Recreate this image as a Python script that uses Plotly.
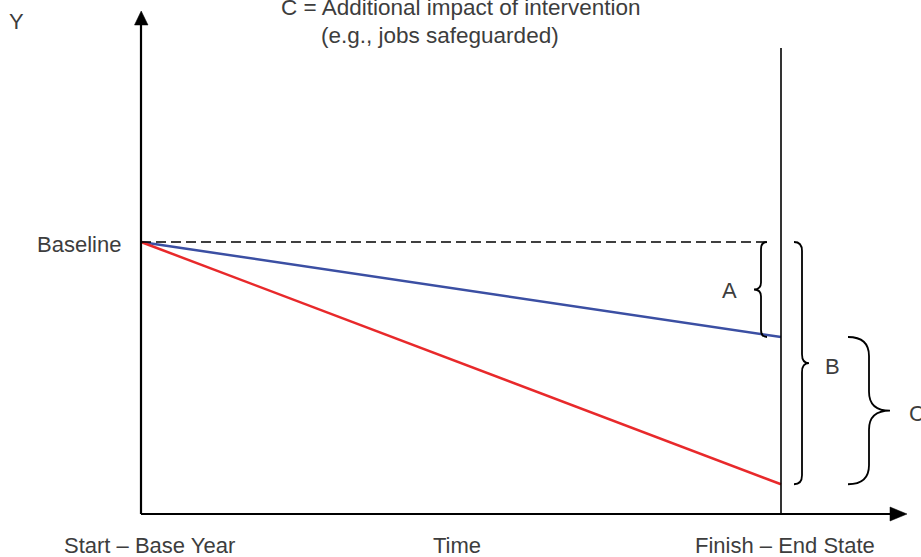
import plotly.graph_objects as go

# ---- data ----
time_points = [0, 1]                      # start, finish
time_labels = ["Start – Base Year", "Finish – End State"]
axis_title_x = "Time"
axis_title_y = "Y"
baseline_value = 100
with_intervention = [100, 80]             # blue
without_intervention = [100, 49]          # red
brace_labels = ["A", "B", "C"]
note_lines = ["C = Additional impact of intervention", "(e.g., jobs safeguarded)"]

# ---- layout scale helpers (pixel <-> data) ----
W, H = 921, 557
X0_PX, X1_PX = 141, 781          # pixel of time 0 and time 1
Y_BASE_PX, PX_PER_UNIT = 242, 4.75
SX = (X1_PX - X0_PX) / (time_points[1] - time_points[0])

def X(px):
    return time_points[0] + (px - X0_PX) / SX

def Y(py):
    return baseline_value - (py - Y_BASE_PX) / PX_PER_UNIT

def PY(v):
    return Y_BASE_PX + (baseline_value - v) * PX_PER_UNIT

FONT = "Liberation Sans, Arial, sans-serif"
TXT = "#3d3d3d"

fig = go.Figure()

# lines
fig.add_trace(go.Scatter(x=time_points, y=with_intervention, mode="lines",
                         line=dict(color="#3b4fa3", width=2.5), hoverinfo="skip"))
fig.add_trace(go.Scatter(x=time_points, y=without_intervention, mode="lines",
                         line=dict(color="#e8292b", width=2.5), hoverinfo="skip"))

shapes = []
# dashed baseline
shapes.append(dict(type="line", xref="x", yref="y", x0=time_points[0], x1=X(768),
                   y0=baseline_value, y1=baseline_value,
                   line=dict(color="black", width=1.6, dash="10px,5px")))
# axes
axis_bottom_px = 514
shapes.append(dict(type="line", xref="x", yref="y", x0=X(X0_PX), x1=X(X0_PX),
                   y0=Y(axis_bottom_px), y1=Y(24), line=dict(color="black", width=2.2)))
shapes.append(dict(type="line", xref="x", yref="y", x0=X(X0_PX), x1=X(891),
                   y0=Y(axis_bottom_px), y1=Y(axis_bottom_px), line=dict(color="black", width=2.2)))
# arrow heads
shapes.append(dict(type="path", xref="x", yref="y",
                   path=f"M {X(134.5)},{Y(25)} L {X(148)},{Y(25)} L {X(141.2)},{Y(11)} Z",
                   fillcolor="black", line=dict(color="black", width=0.5)))
shapes.append(dict(type="path", xref="x", yref="y",
                   path=f"M {X(890)},{Y(507)} L {X(890)},{Y(521)} L {X(907)},{Y(514)} Z",
                   fillcolor="black", line=dict(color="black", width=0.5)))
# finish vertical line
shapes.append(dict(type="line", xref="x", yref="y", x0=time_points[1], x1=time_points[1],
                   y0=Y(48), y1=Y(axis_bottom_px), line=dict(color="black", width=1.6)))


def brace(v_top, v_bot, xh, xv, xt, r):
    yt, yb = PY(v_top), PY(v_bot)
    ym = (yt + yb) / 2
    pts = [
        ("M", [(xh, yt)]),
        ("Q", [(xv, yt), (xv, yt + r)]),
        ("L", [(xv, ym - r)]),
        ("Q", [(xv, ym), (xt, ym)]),
        ("Q", [(xv, ym), (xv, ym + r)]),
        ("L", [(xv, yb - r)]),
        ("Q", [(xv, yb), (xh, yb)]),
    ]
    s = ""
    for cmd, ps in pts:
        s += cmd + " " + " ".join(f"{X(px)},{Y(py)}" for px, py in ps) + " "
    return dict(type="path", xref="x", yref="y", path=s.strip(),
                line=dict(color="black", width=1.8))

shapes.append(brace(baseline_value, with_intervention[1], 767, 761, 754, 7))
shapes.append(brace(baseline_value, without_intervention[1], 794, 802, 809, 9))
shapes.append(brace(with_intervention[1], without_intervention[1], 848, 869, 890, 19))

ann = []
def text(s, px, py, xanchor="center", size=22):
    ann.append(dict(text=s, x=X(px), y=Y(py), xref="x", yref="y", showarrow=False,
                    xanchor=xanchor, yanchor="middle",
                    font=dict(family=FONT, size=size, color=TXT)))

text(axis_title_y, 16, 21)
text(note_lines[0], 279, 7, xanchor="left", size=22.5)
text(note_lines[1], 319, 35, xanchor="left", size=22.5)
text("Baseline", 123, 244, xanchor="right")
text(brace_labels[0], 729, 290)
text(brace_labels[1], 832, 366)
text(brace_labels[2], 907, 413, xanchor="left")
text(time_labels[0], X0_PX + 8, 545)
text(axis_title_x, 457, 545)
text(time_labels[1], 785, 545)

fig.update_layout(
    width=W, height=H, margin=dict(l=0, r=0, t=0, b=0),
    paper_bgcolor="white", plot_bgcolor="white", showlegend=False,
    shapes=shapes, annotations=ann,
    xaxis=dict(range=[X(0), X(W)], visible=False, fixedrange=True),
    yaxis=dict(range=[Y(H), Y(0)], visible=False, fixedrange=True),
)
fig.write_html("out.html", config={"displayModeBar": False},
               post_script="document.body.style.margin='0';document.body.style.overflow='hidden';")
